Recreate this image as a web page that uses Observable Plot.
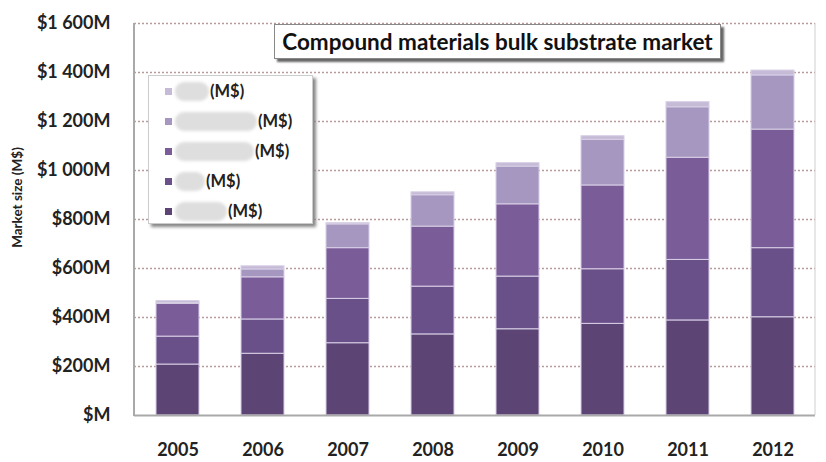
<!DOCTYPE html>
<html>
<head>
<meta charset="utf-8">
<script src="https://cdn.jsdelivr.net/npm/d3@7"></script>
<script src="https://cdn.jsdelivr.net/npm/@observablehq/plot@0.6"></script>
<style>
  html, body { margin: 0; padding: 0; background: #fff; }
  #wrap { position: relative; width: 826px; height: 462px; font-family: Lato, "Open Sans", sans-serif; }
  #title {
    position: absolute; left: 274px; top: 24px; width: 445px; height: 33px;
    background: #fff; border: 1px solid #888; box-shadow: 3px 3px 2px #666;
    font-weight: bold; font-size: 22.5px; color: #111; text-align: center; line-height: 33px;
  }
  #legend {
    position: absolute; left: 148px; top: 75px; width: 163px; height: 147px;
    background: #fff; border: 1px solid #ccc; box-shadow: 3px 3px 3px #888;
  }
  .item { position: absolute; left: 0; height: 20px; display: flex; align-items: center; }
  .sw { width: 7px; height: 7px; margin-left: 16px; margin-right: 3px; }
  .blob { height: 19px; background: #dedede; border-radius: 9px; filter: blur(1.5px); }
  .lab { font-size: 16.5px; font-weight: bold; color: #222; margin-left: 1px; }
</style>
</head>
<body>
<div id="wrap">
  <div id="chart"></div>
  <div id="title"></div>
  <div id="legend"></div>
</div>
<script>
const years = ["2005", "2006", "2007", "2008", "2009", "2010", "2011", "2012"];
const series = ["Series 1", "Series 2", "Series 3", "Series 4", "Series 5"];
const s1 = [208, 252, 295, 331, 352, 374, 388, 401];
const s2 = [114, 140, 181, 195, 215, 223, 247, 282];
const s3 = [134, 172, 207, 245, 295, 342, 417, 484];
const s4 = [3, 32, 97, 128, 154, 186, 206, 221];
const s5 = [8, 13, 5, 12, 14, 15, 21, 20];
const colors = ["#5c4474", "#6a5088", "#7a5c99", "#a597bf", "#c6bbd7"];
const yTicks = [0, 200, 400, 600, 800, 1000, 1200, 1400, 1600];
const titleText = "Compound materials bulk substrate market";
const yLabel = "Market size (M$)";
const unitLabel = "(M$)";
const blobWidths = [34, 82, 79, 30, 52]; // legend order: Series 5 .. Series 1

const allSeries = [s1, s2, s3, s4, s5];
const data = [];
years.forEach((yr, i) => {
  allSeries.forEach((s, k) => data.push({ year: yr, series: series[k], value: s[i] }));
});

const fmt = d => d === 0 ? "$M" : "$" + d3.format(",")(d).replace(",", " ") + "M";

const borders = (index, scales, values, dims) => {
  const g = d3.create("svg:g");
  const x0 = dims.marginLeft, x1 = dims.width - dims.marginRight;
  const y0 = dims.marginTop, y1 = dims.height - dims.marginBottom;
  g.append("line").attr("x1", x0).attr("x2", x0).attr("y1", y0).attr("y2", y1 + 1)
    .attr("stroke", "#a9a9a9").attr("stroke-width", 2);
  g.append("line").attr("x1", x1).attr("x2", x1).attr("y1", y0).attr("y2", y1)
    .attr("stroke", "#cfcfcf").attr("stroke-width", 1);
  return g.node();
};

const chart = Plot.plot({
  width: 826,
  height: 462,
  marginLeft: 134,
  marginRight: 11,
  marginTop: 23,
  marginBottom: 47,
  style: { fontFamily: "Lato, 'Open Sans', sans-serif", background: "transparent", color: "#222" },
  x: { domain: years, paddingInner: 0.5, paddingOuter: 0.25, label: null },
  y: { domain: [0, 1600], label: null },
  color: { domain: series, range: colors },
  marks: [
    Plot.ruleY(yTicks.slice(1), { stroke: "#b89a9a", strokeWidth: 1.4, strokeDasharray: "2,2" }),
    Plot.barY(data, { x: "year", y: "value", fill: "series", stroke: "#d8cfe6", strokeWidth: 1 }),
    Plot.ruleY([0], { stroke: "#a9a9a9", strokeWidth: 2 }),
    borders,
    Plot.axisY({ ticks: yTicks, tickSize: 0, tickPadding: 24, tickFormat: fmt,
      fontSize: 18, fontWeight: "bold", fill: "#222", label: null }),
    Plot.axisX({ tickSize: 0, tickPadding: 28, fontSize: 18, fontWeight: "bold", fill: "#222", label: null }),
    Plot.text([yLabel], { frameAnchor: "left", textAnchor: "middle", dx: -117, dy: -22, rotate: -90,
      fontSize: 13.5, fontWeight: "bold", fill: "#222" })
  ]
});
document.getElementById("chart").appendChild(chart);

document.getElementById("title").textContent = titleText;

const legend = document.getElementById("legend");
const legendOrder = [4, 3, 2, 1, 0];
legendOrder.forEach((k, j) => {
  const it = document.createElement("div");
  it.className = "item";
  it.style.top = (5 + j * 30) + "px";
  const sw = document.createElement("div");
  sw.className = "sw"; sw.style.background = colors[k];
  const blob = document.createElement("div");
  blob.className = "blob"; blob.style.width = blobWidths[j] + "px";
  const lab = document.createElement("span");
  lab.className = "lab"; lab.textContent = unitLabel;
  it.appendChild(sw); it.appendChild(blob); it.appendChild(lab);
  legend.appendChild(it);
});
</script>
</body>
</html>
